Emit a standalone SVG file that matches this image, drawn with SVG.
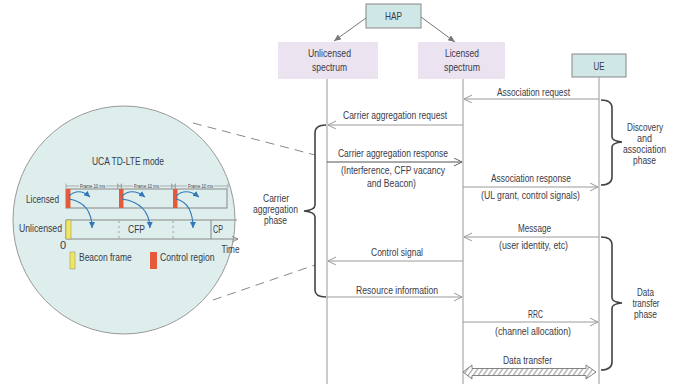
<svg xmlns="http://www.w3.org/2000/svg" width="691" height="388" viewBox="0 0 691 388">
<defs>
<style>
text{font-family:"Liberation Sans",Arial,sans-serif;fill:#3a3a48;font-size:10.5px}
.c{text-anchor:middle}
.e{text-anchor:end}
.ph{font-size:10px}
.life{stroke:#a8a8a8;stroke-width:1.2;fill:none}
.msg{stroke:#9a9a9a;stroke-width:1;fill:none;marker-end:url(#chev)}
.brace{stroke:#444;stroke-width:1.6;fill:none}
.dash{stroke:#888;stroke-width:1;stroke-dasharray:9,6;fill:none}
.blue{stroke:#2f78b8;stroke-width:1.1;fill:none;marker-end:url(#barr)}
.box{fill:#cfe7e6;stroke:#888;stroke-width:1}
.spec{fill:#ebe3f0}
.red{fill:#e45a3a}
.yel{fill:#f1e65c;stroke:#888;stroke-width:0.5}
</style>
<marker id="chev" markerUnits="userSpaceOnUse" markerWidth="10" markerHeight="10" refX="8" refY="4" orient="auto">
<path d="M0,0 L8,4 L0,8" fill="none" stroke="#9a9a9a" stroke-width="1"/>
</marker>
<marker id="chevd" markerUnits="userSpaceOnUse" markerWidth="10" markerHeight="10" refX="8" refY="4" orient="auto">
<path d="M0,0 L8,4 L0,8" fill="none" stroke="#666" stroke-width="1"/>
</marker>
<marker id="garr" markerUnits="userSpaceOnUse" markerWidth="10" markerHeight="10" refX="7" refY="3" orient="auto">
<path d="M0,0 L7,3 L0,6 Z" fill="#777"/>
</marker>
<marker id="barr" markerUnits="userSpaceOnUse" markerWidth="10" markerHeight="10" refX="6" refY="3" orient="auto">
<path d="M0,0 L6,3 L0,6 Z" fill="#2f78b8"/>
</marker>
<marker id="tarr" markerUnits="userSpaceOnUse" markerWidth="10" markerHeight="10" refX="6" refY="3" orient="auto">
<path d="M0,0 L6,3 L0,6" fill="none" stroke="#777" stroke-width="0.8"/>
</marker>
<pattern id="hatch" patternUnits="userSpaceOnUse" width="5" height="8" patternTransform="skewX(-35)">
<rect width="5" height="8" fill="#fff"/>
<line x1="1" y1="0" x2="1" y2="8" stroke="#777" stroke-width="1"/>
</pattern>
</defs>
<rect width="691" height="388" fill="#fff"/>

<!-- zoom callout -->
<g id="zoom-circle">
<ellipse cx="124" cy="220" rx="111" ry="114" fill="#ddeeed" stroke="#999" stroke-width="1"/>
<line class="dash" x1="193" y1="123" x2="315" y2="155"/>
<line class="dash" x1="213" y1="300" x2="315" y2="265"/>
<text class="c" x="128" y="165" style="font-size:11.5px" textLength="72" lengthAdjust="spacingAndGlyphs">UCA TD-LTE mode</text>
<!-- frame annotation -->
<g stroke="#888" stroke-width="0.6" fill="none">
<line x1="66" y1="186" x2="79" y2="186"/><line x1="106" y1="186" x2="119" y2="186"/>
<line x1="120" y1="186" x2="133" y2="186"/><line x1="160" y1="186" x2="173" y2="186"/>
<line x1="174" y1="186" x2="187" y2="186"/><line x1="214" y1="186" x2="228" y2="186"/>
<line x1="66" y1="183.5" x2="66" y2="188.5"/><line x1="228" y1="183.5" x2="228" y2="188.5"/>
<path d="M117.5,184 L121.5,188 M121.5,184 L117.5,188 M117.5,183.5 V188.5 M121.5,183.5 V188.5"/>
<path d="M171.5,184 L175.5,188 M175.5,184 L171.5,188 M171.5,183.5 V188.5 M175.5,183.5 V188.5"/>
</g>
<text class="c" x="92.5" y="188" style="font-size:5px" textLength="25" lengthAdjust="spacingAndGlyphs">Frame 10 ms</text>
<text class="c" x="146.5" y="188" style="font-size:5px" textLength="25" lengthAdjust="spacingAndGlyphs">Frame 10 ms</text>
<text class="c" x="200.5" y="188" style="font-size:5px" textLength="25" lengthAdjust="spacingAndGlyphs">Frame 10 ms</text>
<!-- licensed row -->
<text class="e" x="59" y="203" style="font-size:11px" textLength="33" lengthAdjust="spacingAndGlyphs">Licensed</text>
<rect x="66" y="189" width="161" height="19" fill="none" stroke="#888" stroke-width="1"/>
<rect class="red" x="66" y="189" width="4.5" height="19"/>
<rect class="red" x="119" y="189" width="4.5" height="19"/>
<rect class="red" x="173" y="189" width="4.5" height="19"/>
<!-- unlicensed row -->
<text class="e" x="62" y="232" style="font-size:11px" textLength="43" lengthAdjust="spacingAndGlyphs">Unlicensed</text>
<g stroke="#888" stroke-width="1" fill="none">
<path d="M237,220 H66 V239"/>
<line x1="211" y1="220" x2="211" y2="239"/>
<line x1="119" y1="221" x2="119" y2="238" stroke-dasharray="2,3" stroke-width="0.8"/>
<line x1="173" y1="221" x2="173" y2="238" stroke-dasharray="2,3" stroke-width="0.8"/>
<line x1="66" y1="239" x2="238" y2="239" marker-end="url(#tarr)"/>
</g>
<rect class="yel" x="66" y="220" width="5" height="19"/>
<text class="c" x="136.5" y="233" style="font-size:11px" textLength="17" lengthAdjust="spacingAndGlyphs">CFP</text>
<text class="c" x="218" y="233" style="font-size:11px" textLength="10" lengthAdjust="spacingAndGlyphs">CP</text>
<text class="c" x="63" y="249" style="font-size:11px">0</text>
<text class="c" x="230.5" y="253" style="font-size:10.5px" textLength="18" lengthAdjust="spacingAndGlyphs">Time</text>
<!-- blue arrows -->
<path class="blue" d="M69,196 Q79,187 90,197"/>
<path class="blue" d="M69,199 Q92,203 92,228"/>
<path class="blue" d="M122,196 Q132,187 145,197"/>
<path class="blue" d="M122,199 Q149,203 150,228"/>
<path class="blue" d="M176,196 Q186,187 199,197"/>
<path class="blue" d="M176,199 Q193,203 193,228"/>
<!-- legend -->
<rect class="yel" x="70" y="252" width="5" height="17"/>
<text transform="translate(79,261) scale(0.77,1)" style="font-size:11px">Beacon frame</text>
<rect class="red" x="150" y="252" width="7" height="17"/>
<text transform="translate(160,261) scale(0.79,1)" style="font-size:11px">Control region</text>
</g>

<!-- nodes -->
<g id="hap">
<rect class="box" x="366" y="4" width="55" height="24"/>
<text class="c" x="393.5" y="20" textLength="17" lengthAdjust="spacingAndGlyphs">HAP</text>
</g>
<g id="unlicensed">
<rect class="spec" x="278" y="42" width="100" height="37"/>
<text class="c" x="329.5" y="57" textLength="43" lengthAdjust="spacingAndGlyphs">Unlicensed</text>
<text class="c" x="329.5" y="71" textLength="35" lengthAdjust="spacingAndGlyphs">spectrum</text>
</g>
<g id="licensed">
<rect class="spec" x="418" y="42" width="87" height="37"/>
<text class="c" x="462" y="57" textLength="34" lengthAdjust="spacingAndGlyphs">Licensed</text>
<text class="c" x="462" y="71" textLength="36" lengthAdjust="spacingAndGlyphs">spectrum</text>
</g>
<g id="ue">
<rect class="box" x="572" y="54" width="54" height="23"/>
<text class="c" x="599" y="70" textLength="11" lengthAdjust="spacingAndGlyphs">UE</text>
</g>

<!-- connectors -->
<g id="connectors">
<line x1="366" y1="18" x2="334" y2="41" stroke="#777" stroke-width="1" marker-end="url(#garr)"/>
<line x1="421" y1="17" x2="455" y2="42" stroke="#777" stroke-width="1" marker-end="url(#garr)"/>
<line class="life" x1="327" y1="79" x2="327" y2="384"/>
<line class="life" x1="463" y1="79" x2="463" y2="384"/>
<line class="life" x1="599" y1="77" x2="599" y2="384"/>

<line class="msg" x1="599" y1="99" x2="464" y2="99"/>
<text class="c" x="533.5" y="96" textLength="73" lengthAdjust="spacingAndGlyphs">Association request</text>

<line class="msg" x1="463" y1="125" x2="328" y2="125"/>
<text class="c" x="395" y="119" textLength="104" lengthAdjust="spacingAndGlyphs">Carrier aggregation request</text>

<line x1="327" y1="162" x2="462" y2="162" stroke="#555" stroke-width="1.1" marker-end="url(#chevd)"/>
<text class="c" x="393" y="157" textLength="110" lengthAdjust="spacingAndGlyphs">Carrier aggregation response</text>
<text class="c" x="393" y="174" textLength="104" lengthAdjust="spacingAndGlyphs">(Interference,  CFP vacancy</text>
<text class="c" x="391.5" y="187" textLength="49" lengthAdjust="spacingAndGlyphs">and Beacon)</text>

<line class="msg" x1="463" y1="187" x2="598" y2="187"/>
<text class="c" x="531" y="182" textLength="80" lengthAdjust="spacingAndGlyphs">Association response</text>
<text class="c" x="530.5" y="199" textLength="99" lengthAdjust="spacingAndGlyphs">(UL grant, control signals)</text>

<line class="msg" x1="599" y1="237" x2="464" y2="237"/>
<text class="c" x="534.5" y="232" textLength="33" lengthAdjust="spacingAndGlyphs">Message</text>
<text class="c" x="533.5" y="249" textLength="69" lengthAdjust="spacingAndGlyphs">(user identity, etc)</text>

<line class="msg" x1="463" y1="261" x2="328" y2="261"/>
<text class="c" x="397" y="256" textLength="52" lengthAdjust="spacingAndGlyphs">Control signal</text>

<line class="msg" x1="327" y1="297" x2="462" y2="297"/>
<text class="c" x="397" y="294" textLength="82" lengthAdjust="spacingAndGlyphs">Resource information</text>

<line class="msg" x1="463" y1="322" x2="598" y2="322"/>
<text class="c" x="535.5" y="318" textLength="15" lengthAdjust="spacingAndGlyphs">RRC</text>
<text class="c" x="533" y="335" textLength="76" lengthAdjust="spacingAndGlyphs">(channel allocation)</text>

<path d="M463,372 L472,365 L472,368.5 L586,368.5 L586,365 L596,372 L586,379 L586,375.5 L472,375.5 L472,379 Z" fill="url(#hatch)" stroke="#777" stroke-width="0.9"/>
<text class="c" x="527.5" y="364" textLength="49" lengthAdjust="spacingAndGlyphs">Data transfer</text>
</g>

<!-- phase braces -->
<g id="carrier-phase">
<path class="brace" d="M326,125 Q315,125 315,133 V205 Q315,210 304,211 Q315,212 315,217 V290 Q315,297 326,297"/>
<text class="c ph" x="276" y="202" textLength="26" lengthAdjust="spacingAndGlyphs">Carrier</text>
<text class="c ph" x="275.5" y="213" textLength="45" lengthAdjust="spacingAndGlyphs">aggregation</text>
<text class="c ph" x="275.5" y="224" textLength="23" lengthAdjust="spacingAndGlyphs">phase</text>
</g>
<g id="discovery-phase">
<path class="brace" d="M601,100 Q612,100 612,108 V137 Q612,141 622,142 Q612,143 612,147 V177 Q612,185 601,185"/>
<text class="c ph" x="645" y="131" textLength="36" lengthAdjust="spacingAndGlyphs">Discovery</text>
<text class="c ph" x="644.5" y="142" textLength="15" lengthAdjust="spacingAndGlyphs">and</text>
<text class="c ph" x="644.5" y="153" textLength="43" lengthAdjust="spacingAndGlyphs">association</text>
<text class="c ph" x="644.5" y="164" textLength="23" lengthAdjust="spacingAndGlyphs">phase</text>
</g>
<g id="data-phase">
<path class="brace" d="M601,237 Q612,237 612,245 V298 Q612,302 622,303 Q612,304 612,308 V362 Q612,370 601,370"/>
<text class="c ph" x="645.5" y="296" textLength="17" lengthAdjust="spacingAndGlyphs">Data</text>
<text class="c ph" x="646" y="307" textLength="27" lengthAdjust="spacingAndGlyphs">transfer</text>
<text class="c ph" x="645.5" y="318" textLength="23" lengthAdjust="spacingAndGlyphs">phase</text>
</g>
</svg>
